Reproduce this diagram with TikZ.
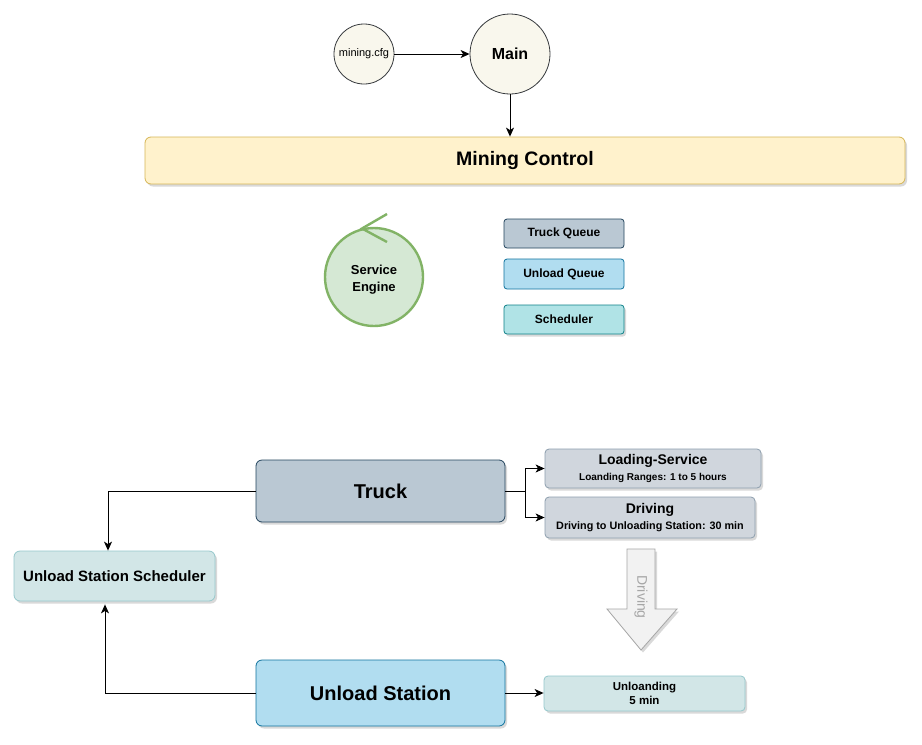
\documentclass[tikz,border=0pt]{standalone}
\usepackage{fontspec}
\setmainfont{Liberation Sans}
\usetikzlibrary{arrows.meta,shadows,calc}
\definecolor{creamfill}{HTML}{F9F7ED}
\definecolor{creamdraw}{HTML}{36393D}
\definecolor{yfill}{HTML}{FFF2CC}
\definecolor{ydraw}{HTML}{D6B656}
\definecolor{gfill}{HTML}{D5E8D4}
\definecolor{gdraw}{HTML}{82B366}
\definecolor{slfill}{HTML}{BAC8D3}
\definecolor{sldraw}{HTML}{23445D}
\definecolor{bfill}{HTML}{B1DDF0}
\definecolor{bdraw}{HTML}{10739E}
\definecolor{tfill}{HTML}{B0E3E6}
\definecolor{tdraw}{HTML}{0E8088}
\definecolor{grfill}{HTML}{D0D6DD}
\definecolor{grdraw}{HTML}{8D9EAD}
\definecolor{ltfill}{HTML}{D2E6E7}
\definecolor{ltdraw}{HTML}{95C8CC}
\definecolor{arrfill}{HTML}{F2F2F2}
\definecolor{arrdraw}{HTML}{A6A6A6}
\tikzset{
  x=1pt, y=-1pt,
  circ/.style={circle, draw=creamdraw, fill=creamfill, inner sep=0pt, line width=0.8pt},
  box/.style={rounded corners=6pt, inner sep=0pt, line width=0.8pt, font=\bfseries},
  shad/.style={drop shadow={shadow xshift=2pt, shadow yshift=-2.5pt, opacity=0.15, fill=black}},
  conn/.style={-{Stealth[length=9pt,width=8pt,inset=2.5pt]}, line width=0.9pt},
  plain/.style={line width=1pt},
}
\begin{document}
\begin{tikzpicture}
\useasboundingbox[fill=white] (0,0) rectangle (922,745);

% top
\node[circ, minimum size=60pt, font=\fontsize{11}{13}\selectfont] (cfg) at (364,54) {mining.cfg};
\node[circ, minimum size=80pt, font=\fontsize{16}{19}\selectfont\bfseries] (main) at (510,54) {Main};
\node[box, shad, draw=ydraw, fill=yfill, minimum width=760pt, minimum height=47pt, font=\fontsize{19.5}{23}\selectfont\bfseries] (mc) at (525,160.5) {\raisebox{-2pt}{Mining Control}};
\draw[conn] (cfg) -- (main);
\draw[conn] (main) -- (main |- mc.north);

% service engine
\node[circle, draw=gdraw, fill=gfill, line width=2.4pt, minimum size=98pt, inner sep=0pt] (se) at (374,277) {};
\node[align=center, font=\fontsize{13}{17}\selectfont\bfseries] (setext) at (374,280) {Service\\Engine};
\draw[gdraw, line width=2.4pt] (387,214) -- (362,228.5) -- (387,242);

% queues
\node[box, rounded corners=3pt, draw=sldraw, fill=slfill, minimum width=120pt, minimum height=29pt, font=\fontsize{12}{14}\selectfont\bfseries] (tq) at (564,233.5) {Truck Queue};
\node[box, rounded corners=3pt, draw=bdraw, fill=bfill, minimum width=120pt, minimum height=30pt, font=\fontsize{12}{14}\selectfont\bfseries] (uq) at (564,274) {Unload Queue};
\node[box, shad, rounded corners=3pt, draw=tdraw, fill=tfill, minimum width=120pt, minimum height=29pt, font=\fontsize{12}{14}\selectfont\bfseries] (sch) at (564,319.5) {Scheduler};

% truck section
\node[box, shad, draw=sldraw, fill=slfill, minimum width=249pt, minimum height=62pt, font=\fontsize{20}{24}\selectfont\bfseries] (truck) at (380.5,491) {Truck};
\node[box, shad, rounded corners=4pt, draw=grdraw, fill=grfill, minimum width=216pt, minimum height=39pt, align=center] (ls) at (653,468.5)
  {{\fontsize{14}{16}\selectfont Loading-Service}\\[3.5pt]{\fontsize{10}{12}\selectfont Loanding Ranges: 1 to 5 hours}};
\node[box, shad, rounded corners=4pt, draw=grdraw, fill=grfill, minimum width=210pt, minimum height=41pt, align=center] (dr) at (650,517.5)
  {{\fontsize{14}{16}\selectfont Driving}\\[3.5pt]{\fontsize{10.8}{13}\selectfont Driving to Unloading Station: 30 min}};
\coordinate (split) at (525,491);
\draw[plain] (truck.east) -- (split);
\draw[conn] (split) |- (ls.west);
\draw[conn] (split) |- (dr.west);

% block arrow
\draw[draw=arrdraw, fill=arrfill, line width=0.8pt, shad]
  (627,549) -- (655,549) -- (655,609) -- (677,609) -- (641,650) -- (607,609) -- (627,609) -- cycle;
\node[rotate=-90, text=arrdraw, font=\fontsize{14}{16}\selectfont] (drvlbl) at (641,597) {Driving};

% scheduler and unload station
\node[box, shad, draw=ltdraw, fill=ltfill, minimum width=201pt, minimum height=50pt, font=\fontsize{15}{18}\selectfont\bfseries] (uss) at (114.5,576) {Unload Station Scheduler};
\node[box, shad, draw=bdraw, fill=bfill, minimum width=249pt, minimum height=66pt, font=\fontsize{20}{24}\selectfont\bfseries] (us) at (380.5,693) {Unload Station};
\node[box, shad, rounded corners=4pt, draw=ltdraw, fill=ltfill, minimum width=201pt, minimum height=35pt, align=center, font=\fontsize{11.5}{14.5}\selectfont\bfseries] (unl) at (644.5,693.5) {Unloanding\\5 min};

\draw[conn] (truck.west) -| ([xshift=-6.5pt]uss.north);
\draw[conn, shorten >=3pt] (us.west) -| ([xshift=-9.5pt]uss.south);
\draw[conn] (us.east) -- (us.east -| unl.west);
\end{tikzpicture}
\end{document}
